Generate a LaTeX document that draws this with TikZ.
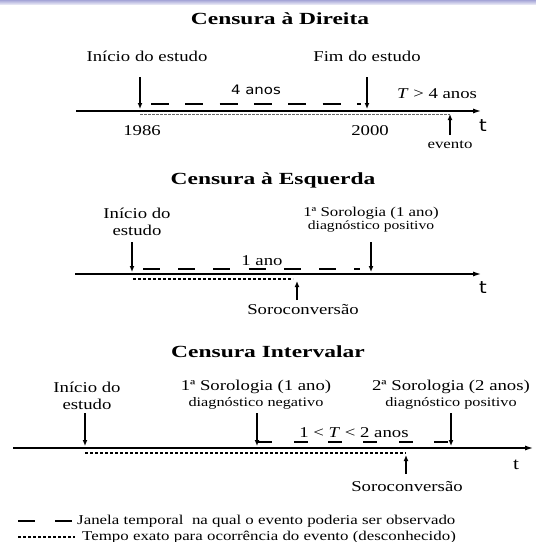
\documentclass[tikz,border=0pt]{standalone}
\usepackage{fontspec}
\setmainfont{Liberation Serif}[FakeStretch=1.25]
\newfontfamily\negrito{Liberation Serif Bold}[FakeStretch=1.38]
\newfontfamily\sansf{DejaVu Sans}[FakeStretch=1.15]
\usetikzlibrary{arrows.meta}
\definecolor{lavanda}{RGB}{165,165,215}

\begin{document}
\begin{tikzpicture}[x=1pt,y=-1pt]
  \tikzstyle{eixo}=[line width=2.2pt,-{Latex[length=9pt,width=5pt]}]
  \tikzstyle{seta}=[line width=1.4pt,-{Latex[length=6pt,width=5pt]}]
  \tikzstyle{janela}=[line width=1.3pt]
  \tikzstyle{exato}=[line width=1.4pt,dash pattern=on 3pt off 2pt]
  \tikzstyle{fino}=[line width=0.9pt,gray!80!black,dash pattern=on 2.5pt off 1.5pt]
  \tikzstyle{titulo}=[font=\negrito\fontsize{17}{19}\selectfont,inner sep=0pt]
  \tikzstyle{rot}=[font=\fontsize{15}{17}\selectfont,inner sep=0pt,align=center]
  \tikzstyle{sub}=[font=\fontsize{12.5}{14}\selectfont,inner sep=0pt]
  \tikzstyle{sans}=[font=\sansf\fontsize{13}{15}\selectfont,inner sep=0pt]
  \tikzstyle{leg}=[font=\fontsize{13.5}{15}\selectfont,inner sep=0pt,anchor=west]
  \useasboundingbox (0,0) rectangle (536,542);
  \shade[top color=lavanda,bottom color=lavanda!30] (0,0) rectangle (536,4);

  % Censura a direita
  \node[titulo] (tit1) at (280,19) {Censura à Direita};
  \node[rot] (ini1) at (147,56) {Início do estudo};
  \node[rot] (fim1) at (367,56) {Fim do estudo};
  \coordinate (e1a) at (76,111);
  \coordinate (e1b) at (482,111);
  \draw[eixo] (e1a) -- (e1b);
  \node[sans,font=\sansf\fontsize{17}{19}\selectfont] (t1) at (483,126) {t};
  \coordinate (ini1a) at (140,77);  \coordinate (ini1b) at (140,109);
  \coordinate (fim1a) at (367,77);  \coordinate (fim1b) at (367,109);
  \draw[seta] (ini1a) -- (ini1b);
  \draw[seta] (fim1a) -- (fim1b);
  \foreach \k in {0,...,5}
    \draw[janela] (151+34.3*\k,104) -- ++(18,0);
  \draw[janela] (356.8,104) -- (361,104);
  \node[sans] (anos1) at (256,90) {4 anos};
  \node[rot] (tmaior) at (437,94) {\textit{T} > 4 anos};
  \coordinate (ex1a) at (140,114);  \coordinate (ex1b) at (450,114);
  \draw[fino] (ex1a) -- (ex1b);
  \node[rot] (ano86) at (142,131) {1986};
  \node[rot] (ano00) at (370,131) {2000};
  \coordinate (ev1) at (450,135);
  \draw[seta] (ev1) -- (ex1b);
  \node[sub,font=\fontsize{13.5}{15}\selectfont] (evento) at (450,145) {evento};

  % Censura a esquerda
  \node[titulo] (tit2) at (273,180) {Censura à Esquerda};
  \node[rot] (ini2) at (137,222) {Início do\\estudo};
  \node[rot,font=\fontsize{13.5}{15}\selectfont] (sor2) at (371,213) {1ª Sorologia (1 ano)};
  \node[sub] (diag2) at (371,226) {diagnóstico positivo};
  \coordinate (e2a) at (75,274);
  \coordinate (e2b) at (482,274);
  \draw[eixo] (e2a) -- (e2b);
  \node[sans,font=\sansf\fontsize{17}{19}\selectfont] (t2) at (483,288) {t};
  \coordinate (ini2a) at (132,242);  \coordinate (ini2b) at (132,272);
  \coordinate (sor2a) at (371,242);  \coordinate (sor2b) at (371,272);
  \draw[seta] (ini2a) -- (ini2b);
  \draw[seta] (sor2a) -- (sor2b);
  \foreach \k/\w in {0/1.3,1/1.3,2/1.3,3/2.2,4/2.4,5/2.4}
    \draw[janela,line width=\w pt] (143+35.2*\k,269) -- ++(17,0);
  \draw[janela] (354.2,269) -- (360,269);
  \node[rot] (ano2) at (262,261) {1 ano};
  \coordinate (ex2a) at (133,279);  \coordinate (ex2b) at (293,279);
  \draw[exato] (ex2a) -- (ex2b);
  \coordinate (sc2a) at (297,300);  \coordinate (sc2b) at (297,281);
  \draw[seta] (sc2a) -- (sc2b);
  \node[rot] (soro2) at (303,310) {Soroconversão};

  % Censura intervalar
  \node[titulo] (tit3) at (268,352) {Censura Intervalar};
  \node[rot] (ini3) at (87,396) {Início do\\estudo};
  \node[rot] (sor3) at (256,387) {1ª Sorologia (1 ano)};
  \node[sub,font=\fontsize{13}{15}\selectfont] (diag3a) at (256,403) {diagnóstico negativo};
  \node[rot] (sor3b) at (451,387) {2ª Sorologia (2 anos)};
  \node[sub,font=\fontsize{13}{15}\selectfont] (diag3b) at (451,403) {diagnóstico positivo};
  \coordinate (e3a) at (13,448);
  \coordinate (e3b) at (534,448);
  \draw[eixo] (e3a) -- (e3b);
  \node[rot,font=\fontsize{17}{19}\selectfont] (t3) at (516,465) {t};
  \foreach \x/\n in {85/ini3,257/sor3,451/sor3b} {
    \coordinate (\n a) at (\x,413);
    \coordinate (\n b) at (\x,446);
    \draw[seta] (\n a) -- (\n b);
  }
  \draw[janela] (257,442) -- (272,442);
  \foreach \x in {294,328,363,399,434}
    \draw[janela] (\x,442) -- ++(14,0);
  \node[rot] (interv) at (354,433) {1 < \textit{T} < 2 anos};
  \coordinate (ex3a) at (85,453);  \coordinate (ex3b) at (406,453);
  \draw[exato] (ex3a) -- (ex3b);
  \coordinate (sc3a) at (406,474);  \coordinate (sc3b) at (406,455);
  \draw[seta] (sc3a) -- (sc3b);
  \node[rot] (soro3) at (407,487) {Soroconversão};

  % legenda
  \draw[janela] (18,521) -- (35,521);
  \draw[janela] (55,521) -- (72,521);
  \node[leg] (leg1) at (77,521) {Janela temporal\ \ na qual o evento poderia ser observado};
  \coordinate (lx1) at (18,537);  \coordinate (lx2) at (75,537);
  \draw[exato,line width=1.1pt] (lx1) -- (lx2);
  \node[leg] (leg2) at (82,537) {Tempo exato para ocorrência do evento (desconhecido)};
\end{tikzpicture}
\end{document}
